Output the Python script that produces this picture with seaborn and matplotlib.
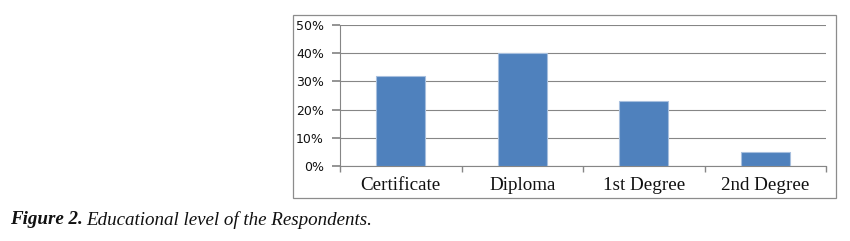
import matplotlib
matplotlib.use("Agg")
import matplotlib.pyplot as plt
import seaborn as sns
import pandas as pd
from matplotlib.patches import Rectangle
from matplotlib.ticker import FuncFormatter

categories = ["Certificate", "Diploma", "1st Degree", "2nd Degree"]
values = [32, 40, 23, 5]
yticks = [0, 10, 20, 30, 40, 50]

df = pd.DataFrame({"level": categories, "pct": values})

sns.set_theme(style="white")
fig = plt.figure(figsize=(8.5, 2.41), dpi=100)
ax = fig.add_axes([340/850, 1-166/241, (826-340)/850, (166-25)/241])

sns.barplot(data=df, x="level", y="pct", ax=ax, color="#4F81BD", width=0.4,
            saturation=1, edgecolor="#A7BFDE", linewidth=0.8, zorder=3)

ax.set_ylim(0, 50)
ax.set_xlim(-0.5, 3.5)
ax.set_yticks(yticks)
ax.yaxis.set_major_formatter(FuncFormatter(lambda v, p: f"{int(v)}%"))
for lab in ax.get_yticklabels():
    lab.set_fontfamily("DejaVu Sans")
    lab.set_fontsize(9)
    lab.set_color("#111111")
ax.set_xticks(range(len(categories)))
ax.set_xticklabels(categories, fontfamily="Liberation Serif", fontsize=13.7, color="#111111")
ax.tick_params(axis="x", length=0, pad=8)
ax.tick_params(axis="y", length=6, color="#868686", direction="out", pad=5.5, left=True)
# category boundary ticks
ax.set_xticks([-0.5, 0.5, 1.5, 2.5, 3.5], minor=True)
ax.tick_params(axis="x", which="minor", length=4, color="#868686", direction="out", bottom=True)
ax.set_xlabel("")
ax.set_ylabel("")

ax.grid(axis="y", color="#868686", linewidth=0.8, zorder=0)
ax.set_axisbelow(True)
for s in ["top", "right"]:
    ax.spines[s].set_visible(False)
for s in ["left", "bottom"]:
    ax.spines[s].set_color("#868686")
    ax.spines[s].set_linewidth(0.8)

fig.patches.append(Rectangle((293/850, 1-198/241), (836-293)/850, (198-15)/241,
                             transform=fig.transFigure, fill=False,
                             edgecolor="#8C8C8C", linewidth=0.9))

fig.text(10/850, 1-220/241, "Figure 2.", fontfamily="Liberation Serif", fontsize=13.7,
         fontweight="bold", fontstyle="italic", va="center", ha="left", color="#111111")
fig.text(86/850, 1-220/241, "Educational level of the Respondents.", fontfamily="Liberation Serif",
         fontsize=13.7, fontstyle="italic", va="center", ha="left", color="#111111")

fig.savefig("out.png", dpi=100)
